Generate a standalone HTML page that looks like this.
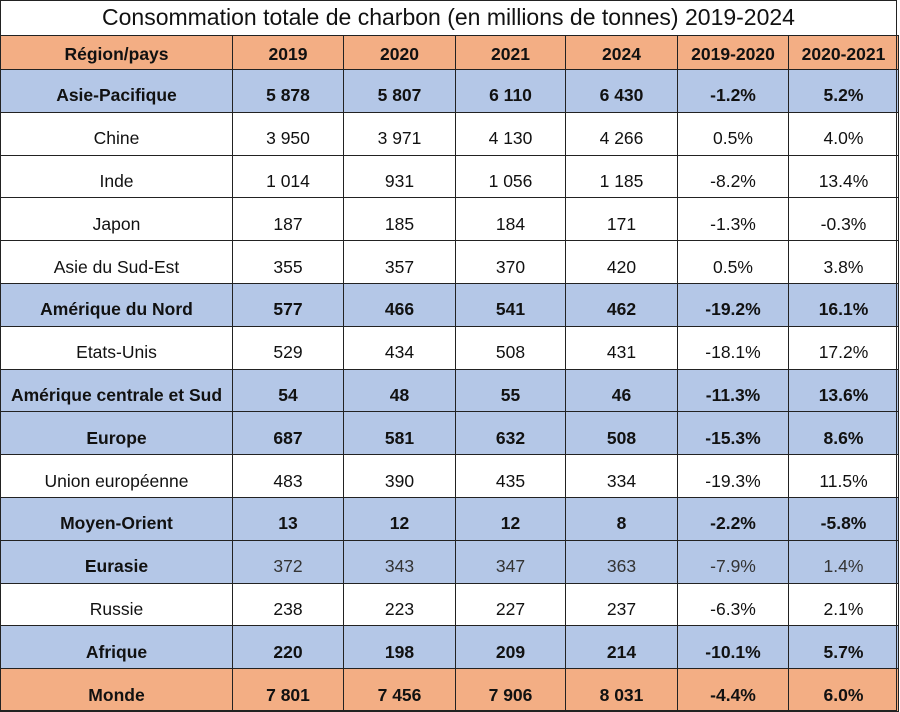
<!DOCTYPE html>
<html><head><meta charset="utf-8"><style>
body{margin:0;width:900px;height:712px;background:#fff;font-family:"Liberation Sans",sans-serif;}
.t{position:absolute;left:0;top:0;width:897px;height:711px;border:1px solid #222;box-sizing:border-box;}
table{position:absolute;left:0;top:35px;border-collapse:collapse;table-layout:fixed;}
td{border:1.5px solid #222;text-align:center;font-size:17.5px;color:#111;padding:10px 0 0 0;height:32px;box-sizing:border-box;white-space:nowrap;overflow:hidden}
tr.h td{background:#f3ae84;font-weight:bold;height:34px;padding:4px 0 0 0}
tr.b td{background:#b4c7e7;font-weight:bold}
tr.o td{background:#f3ae84;font-weight:bold}
tr.r td{height:42.8px}
td.g{font-weight:normal!important;color:#333}
.title{position:absolute;left:0;top:0;width:897px;height:35px;text-align:center;font-size:23px;line-height:35px;color:#111;}
</style></head><body>
<div class="title">Consommation totale de charbon (en millions de tonnes) 2019-2024</div>
<table>
<colgroup><col style="width:232px"><col style="width:111px"><col style="width:112px"><col style="width:110px"><col style="width:112px"><col style="width:111px"><col style="width:110px"></colgroup>
<tr class="h"><td>Région/pays</td><td>2019</td><td>2020</td><td>2021</td><td>2024</td><td>2019-2020</td><td>2020-2021</td></tr>
<tr class="b r"><td>Asie-Pacifique</td><td>5 878</td><td>5 807</td><td>6 110</td><td>6 430</td><td>-1.2%</td><td>5.2%</td></tr>
<tr class="r"><td>Chine</td><td>3 950</td><td>3 971</td><td>4 130</td><td>4 266</td><td>0.5%</td><td>4.0%</td></tr>
<tr class="r"><td>Inde</td><td>1 014</td><td>931</td><td>1 056</td><td>1 185</td><td>-8.2%</td><td>13.4%</td></tr>
<tr class="r"><td>Japon</td><td>187</td><td>185</td><td>184</td><td>171</td><td>-1.3%</td><td>-0.3%</td></tr>
<tr class="r"><td>Asie du Sud-Est</td><td>355</td><td>357</td><td>370</td><td>420</td><td>0.5%</td><td>3.8%</td></tr>
<tr class="b r"><td>Amérique du Nord</td><td>577</td><td>466</td><td>541</td><td>462</td><td>-19.2%</td><td>16.1%</td></tr>
<tr class="r"><td>Etats-Unis</td><td>529</td><td>434</td><td>508</td><td>431</td><td>-18.1%</td><td>17.2%</td></tr>
<tr class="b r"><td>Amérique centrale et Sud</td><td>54</td><td>48</td><td>55</td><td>46</td><td>-11.3%</td><td>13.6%</td></tr>
<tr class="b r"><td>Europe</td><td>687</td><td>581</td><td>632</td><td>508</td><td>-15.3%</td><td>8.6%</td></tr>
<tr class="r"><td>Union européenne</td><td>483</td><td>390</td><td>435</td><td>334</td><td>-19.3%</td><td>11.5%</td></tr>
<tr class="b r"><td>Moyen-Orient</td><td>13</td><td>12</td><td>12</td><td>8</td><td>-2.2%</td><td>-5.8%</td></tr>
<tr class="b r"><td>Eurasie</td><td class="g">372</td><td class="g">343</td><td class="g">347</td><td class="g">363</td><td class="g">-7.9%</td><td class="g">1.4%</td></tr>
<tr class="r"><td>Russie</td><td>238</td><td>223</td><td>227</td><td>237</td><td>-6.3%</td><td>2.1%</td></tr>
<tr class="b r"><td>Afrique</td><td>220</td><td>198</td><td>209</td><td>214</td><td>-10.1%</td><td>5.7%</td></tr>
<tr class="o r"><td>Monde</td><td>7 801</td><td>7 456</td><td>7 906</td><td>8 031</td><td>-4.4%</td><td>6.0%</td></tr>
</table>
<div class="t"></div>
</body></html>
